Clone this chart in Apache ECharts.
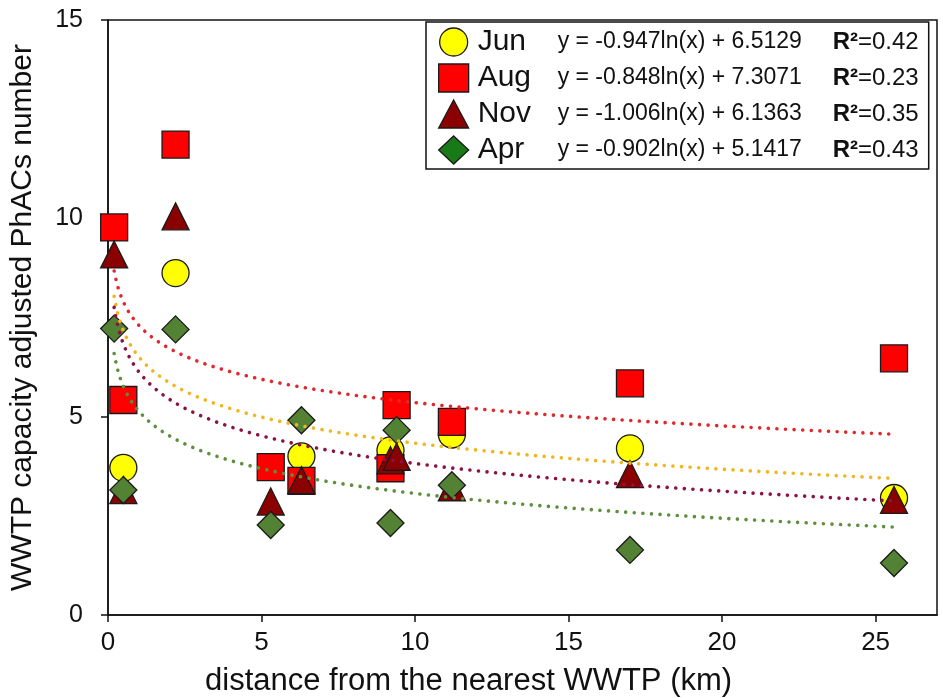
<!DOCTYPE html>
<html><head><meta charset="utf-8">
<script src="https://cdn.jsdelivr.net/npm/echarts@6/dist/echarts.min.js"></script>
<style>html,body{margin:0;padding:0;background:#fff}#c{width:943px;height:698px}</style>
</head><body><div id="c"></div>
<script>
const seriesNames = ['Jun', 'Aug', 'Nov', 'Apr'];
const junX = [0.5, 2.2, 6.3, 9.2, 11.2, 17.0, 25.6];
const junY = [3.71, 8.62, 4.0, 4.15, 4.55, 4.2, 2.95];
const augX = [0.2, 0.5, 2.2, 5.3, 6.3, 9.2, 9.4, 11.2, 17.0, 25.6];
const augY = [9.77, 5.42, 11.86, 3.73, 3.38, 3.7, 5.29, 4.87, 5.84, 6.47];
const novX = [0.2, 0.5, 2.2, 5.3, 6.3, 9.2, 9.4, 11.2, 17.0, 25.6];
const novY = [9.09, 3.15, 10.05, 2.86, 3.4, 3.9, 3.99, 3.22, 3.55, 2.9];
const aprX = [0.2, 0.5, 2.2, 5.3, 6.3, 9.2, 9.4, 11.2, 17.0, 25.6];
const aprY = [7.22, 3.15, 7.2, 2.27, 4.91, 2.32, 4.66, 3.27, 1.64, 1.31];
// logarithmic trend lines printed in the chart: y = a*ln(x) + b
const trendA = [-0.947, -0.848, -1.006, -0.902];
const trendB = [6.5129, 7.3071, 6.1363, 5.1417];
const trendR2 = ['0.42', '0.23', '0.35', '0.43'];
const trendRange = [0.2, 25.6];
const xTicks = [0, 5, 10, 15, 20, 25];
const yTicks = [0, 5, 10, 15];

const xs = [junX, augX, novX, aprX];
const ys = [junY, augY, novY, aprY];
const fill = ['#ffff00', '#ff0000', '#8b0000', '#548235'];
const legendFill = ['#ffff00', '#ff0000', '#8b0000', '#177a17'];
const symbols = ['circle', 'rect', 'triangle', 'diamond'];
const trendColor = ['#f2b51c', '#e3262b', '#8c1243', '#5e8f3c'];

function fmtEq(i) {
  return 'y = ' + trendA[i].toFixed(3) + 'ln(x) + ' + trendB[i].toFixed(4);
}

const series = [];
seriesNames.forEach((n, i) => {
  series.push({
    name: n, type: 'scatter', symbol: symbols[i], symbolSize: 27,
    data: xs[i].map((x, k) => [x, ys[i][k]]),
    itemStyle: { color: fill[i], borderColor: '#1a1a1a', borderWidth: 1.3, opacity: 1 },
    z: 2 + i
  });
});
seriesNames.forEach((n, i) => {
  const pts = [];
  const x0 = trendRange[0], x1 = trendRange[1];
  for (let k = 0; k <= 200; k++) {
    const x = x0 * Math.pow(x1 / x0, k / 200);
    pts.push([x, trendA[i] * Math.log(x) + trendB[i]]);
  }
  series.push({
    name: n + ' trend', type: 'line', data: pts, showSymbol: false,
    lineStyle: { color: trendColor[i], width: 3.6, type: [0.01, 8.6], cap: 'round' },
    z: 10, silent: true
  });
});

const FONT = 'Liberation Sans, Arial, sans-serif';
const chart = echarts.init(document.getElementById('c'));
chart.setOption({
  animation: false,
  backgroundColor: '#fff',
  grid: { left: 107, right: 6, top: 20, bottom: 83, show: true, borderColor: '#111', borderWidth: 1.5, backgroundColor: 'transparent' },
  xAxis: {
    type: 'value', min: 0, max: 27, interval: 5,
    axisLine: { show: true, lineStyle: { color: '#111', width: 1.5 } },
    axisTick: { show: true, inside: false, length: 7, customValues: xTicks, lineStyle: { color: '#111', width: 1.5 } },
    axisLabel: { color: '#111', fontSize: 26, fontFamily: FONT, margin: 15, customValues: xTicks },
    splitLine: { show: false }
  },
  yAxis: {
    type: 'value', min: 0, max: 15, interval: 5,
    axisLine: { show: true, lineStyle: { color: '#111', width: 1.5 } },
    axisTick: { show: true, inside: false, length: 7, customValues: yTicks, lineStyle: { color: '#111', width: 1.5 } },
    axisLabel: { color: '#111', fontSize: 25, fontFamily: FONT, margin: 25, customValues: yTicks },
    splitLine: { show: false },
    name: 'WWTP capacity adjusted PhACs number', nameLocation: 'middle', nameGap: 70, nameRotate: 90,
    nameTextStyle: { fontSize: 30, color: '#111', fontFamily: FONT }
  },
  legend: {
    data: seriesNames.map((n, i) => ({ name: n, icon: symbols[i],
      itemStyle: { color: legendFill[i], borderColor: '#1a1a1a', borderWidth: 1.3 } })),
    orient: 'vertical', left: 426, top: 22,
    itemWidth: 30, itemHeight: 28, itemGap: 6,
    backgroundColor: '#fff', borderColor: '#111', borderWidth: 1.5,
    padding: [5, 10, 4, 12],
    selectedMode: false,
    formatter: name => {
      const i = seriesNames.indexOf(name);
      return '{n|' + name + '}{e|' + fmtEq(i) + '}{r|R²}{v|=' + trendR2[i] + '}';
    },
    textStyle: {
      color: '#111',
      rich: {
        n: { fontSize: 30, width: 80, lineHeight: 30, fontFamily: FONT, color: '#111', padding: [0, 0, 0, 4] },
        e: { fontSize: 23, width: 275, lineHeight: 30, fontFamily: FONT, color: '#111' },
        r: { fontSize: 24, fontWeight: 'bold', lineHeight: 30, fontFamily: FONT, color: '#111' },
        v: { fontSize: 24, lineHeight: 30, fontFamily: FONT, color: '#111' }
      }
    }
  },
  graphic: [{
    type: 'text', left: 205, top: 666,
    style: { text: 'distance from the nearest WWTP (km)', fontSize: 31, fill: '#111', fontFamily: FONT }
  }],
  series: series
});
</script></body></html>
